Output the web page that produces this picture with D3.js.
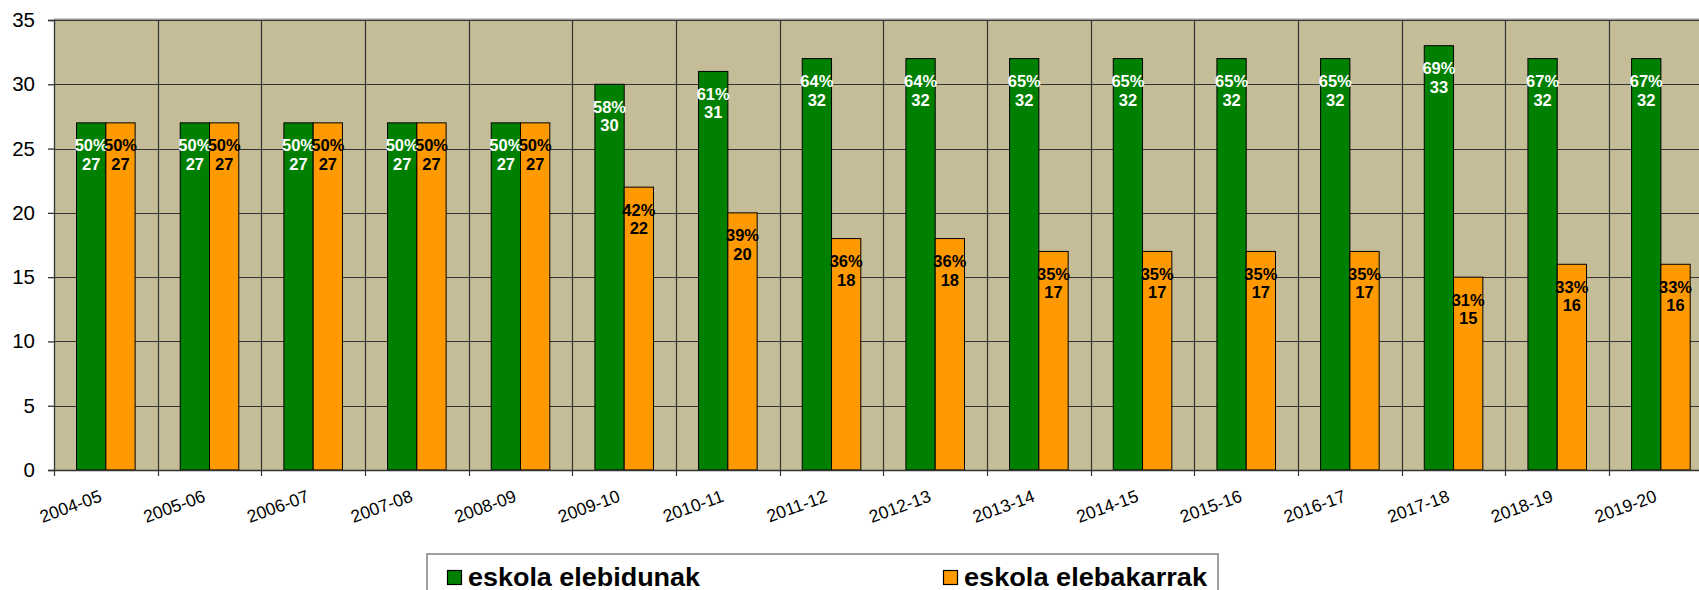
<!DOCTYPE html>
<html>
<head>
<meta charset="utf-8">
<script src="https://cdn.jsdelivr.net/npm/d3@7"></script>
<style>
   body { margin: 0; background: #ffffff; }
   svg { display: block; font-family: Arial, "Liberation Sans", sans-serif; }
</style>
</head>
<body>
<script>
   // data
   let years = ['2004-05', '2005-06', '2006-07', '2007-08', '2008-09', '2009-10', '2010-11', '2011-12',
                '2012-13', '2013-14', '2014-15', '2015-16', '2016-17', '2017-18', '2018-19', '2019-20'];
   let elebidunak = [27, 27, 27, 27, 27, 30, 31, 32, 32, 32, 32, 32, 32, 33, 32, 32];
   let elebakarrak = [27, 27, 27, 27, 27, 22, 20, 18, 18, 17, 17, 17, 17, 15, 16, 16];
   let pctElebidunak = [50, 50, 50, 50, 50, 58, 61, 64, 64, 65, 65, 65, 65, 69, 67, 67];
   let pctElebakarrak = [50, 50, 50, 50, 50, 42, 39, 36, 36, 35, 35, 35, 35, 31, 33, 33];
   let yTicks = [0, 5, 10, 15, 20, 25, 30, 35];
   let seriesNames = ['eskola elebidunak', 'eskola elebakarrak'];

   // canvas
   let width = 1699;
   let height = 590;
   let plotLeft = 54;
   let plotTop = 20;
   let plotBottom = 470;
   let step = 103.67;                          // category width, the last one runs off the picture
   let plotRight = plotLeft + step * years.length;

   let colors = ['#008000', '#ff9900'];
   let labelColors = ['#ffffff', '#000000'];

   let svg = d3.select('body').append('svg')
      .attr('width', width)
      .attr('height', height);

   // scales
   let xScale = d3.scaleBand()
      .domain(years)
      .range([plotLeft, plotRight])
      .padding(0);
   let xInner = d3.scaleBand()
      .domain([0, 1])
      .range([0, xScale.bandwidth()])
      .paddingInner(0)
      .paddingOuter(0.77);
   let yScale = d3.scaleLinear()
      .domain([0, 35])
      .range([plotBottom, plotTop]);

   // rows for the bars
   let rows = [];
   years.forEach((year, i) => {
      rows.push({ year: year, s: 0, value: elebidunak[i], pct: pctElebidunak[i] });
      rows.push({ year: year, s: 1, value: elebakarrak[i], pct: pctElebakarrak[i] });
   });

   // plot background
   svg.append('rect')
      .attr('x', plotLeft)
      .attr('y', plotTop)
      .attr('width', plotRight - plotLeft)
      .attr('height', plotBottom - plotTop)
      .attr('fill', '#c4bd97');

   // top border of plot area
   svg.append('line')
      .attr('x1', plotLeft)
      .attr('x2', plotRight)
      .attr('y1', plotTop - 0.5)
      .attr('y2', plotTop - 0.5)
      .attr('stroke', '#999999')
      .attr('stroke-width', 2);

   // horizontal grid
   svg.append('g')
      .selectAll('line')
      .data(yTicks.filter((d) => d > 0))
      .enter()
      .append('line')
      .attr('x1', plotLeft)
      .attr('x2', plotRight)
      .attr('y1', (d) => Math.round(yScale(d)) + 0.5)
      .attr('y2', (d) => Math.round(yScale(d)) + 0.5)
      .attr('stroke', '#333333')
      .attr('stroke-width', 1.2);

   // vertical grid at category boundaries
   svg.append('g')
      .selectAll('line')
      .data(years.slice(1))
      .enter()
      .append('line')
      .attr('x1', (d) => Math.round(xScale(d)) + 0.5)
      .attr('x2', (d) => Math.round(xScale(d)) + 0.5)
      .attr('y1', plotTop)
      .attr('y2', plotBottom)
      .attr('stroke', '#333333')
      .attr('stroke-width', 1.2);

   // bars
   svg.append('g')
      .selectAll('rect')
      .data(rows)
      .enter()
      .append('rect')
      .attr('x', (d) => xScale(d.year) + xInner(d.s))
      .attr('y', (d) => yScale(d.value))
      .attr('width', xInner.bandwidth())
      .attr('height', (d) => plotBottom - yScale(d.value))
      .attr('fill', (d) => colors[d.s])
      .attr('stroke', '#000000')
      .attr('stroke-width', 1);

   // bar labels: percent then value, inside the top of the bar
   let labels = svg.append('g')
      .selectAll('text')
      .data(rows)
      .enter()
      .append('text')
      .attr('text-anchor', 'middle')
      .attr('font-size', '16.5px')
      .attr('font-weight', 'bold')
      .attr('fill', (d) => labelColors[d.s]);
   labels.append('tspan')
      .attr('x', (d) => xScale(d.year) + xInner(d.s) + xInner.bandwidth() / 2)
      .attr('y', (d) => yScale(d.value) + 28.5)
      .text((d) => d.pct + '%');
   labels.append('tspan')
      .attr('x', (d) => xScale(d.year) + xInner(d.s) + xInner.bandwidth() / 2)
      .attr('y', (d) => yScale(d.value) + 47)
      .text((d) => d.value);

   // y axis
   let yAxis = d3.axisLeft(yScale)
      .tickValues(yTicks)
      .tickSize(6)
      .tickPadding(13);
   let yAxisG = svg.append('g')
      .attr('transform', 'translate(' + plotLeft + ', 0)')
      .call(yAxis);
   yAxisG.selectAll('text')
      .attr('font-size', '20.5px')
      .attr('font-family', 'Arial, "Liberation Sans", sans-serif')
      .attr('fill', '#000');
   yAxisG.selectAll('line, path').attr('stroke', '#333333').attr('stroke-width', 1.3);

   // x axis: ticks at category boundaries, labels rotated
   let xAxisG = svg.append('g')
      .attr('transform', 'translate(0, ' + plotBottom + ')');
   xAxisG.append('line')
      .attr('x1', plotLeft)
      .attr('x2', plotRight)
      .attr('y1', 0.5)
      .attr('y2', 0.5)
      .attr('stroke', '#333333')
      .attr('stroke-width', 1.3);
   xAxisG.selectAll('.tick')
      .data(years)
      .enter()
      .append('line')
      .attr('x1', (d) => Math.round(xScale(d)) + 0.5)
      .attr('x2', (d) => Math.round(xScale(d)) + 0.5)
      .attr('y1', 0)
      .attr('y2', 6)
      .attr('stroke', '#333333')
      .attr('stroke-width', 1.2);
   xAxisG.selectAll('text')
      .data(years)
      .enter()
      .append('text')
      .attr('text-anchor', 'end')
      .attr('font-size', '17.5px')
      .attr('transform', (d) => 'translate(' + (xScale(d) + xScale.bandwidth() / 2 - 3) + ', 31) rotate(-20)')
      .text((d) => d);

   // legend
   let legend = svg.append('g');
   legend.append('rect')
      .attr('x', 427)
      .attr('y', 554)
      .attr('width', 791)
      .attr('height', 60)
      .attr('fill', '#ffffff')
      .attr('stroke', '#808080')
      .attr('stroke-width', 1.5);
   let legendX = [447, 943];
   let legendTextW = [232, 243];
   seriesNames.forEach((name, i) => {
      legend.append('rect')
         .attr('x', legendX[i] + 0.5)
         .attr('y', 570.5)
         .attr('width', 14)
         .attr('height', 14)
         .attr('fill', colors[i])
         .attr('stroke', '#000000')
         .attr('stroke-width', 1.2);
      legend.append('text')
         .attr('x', legendX[i] + 21)
         .attr('y', 586)
         .attr('font-size', '26.5px')
         .attr('font-weight', 'bold')
         .attr('textLength', legendTextW[i])
         .attr('lengthAdjust', 'spacingAndGlyphs')
         .text(name);
   });
</script>
</body>
</html>
